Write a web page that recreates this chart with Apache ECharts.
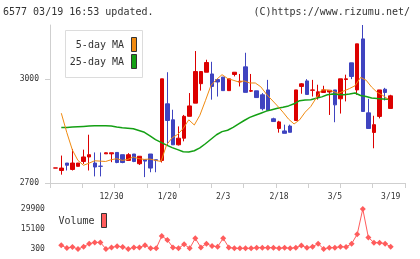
<!DOCTYPE html>
<html><head><meta charset="utf-8">
<script src="https://cdn.jsdelivr.net/npm/echarts@6/dist/echarts.min.js"></script>
<style>html,body{margin:0;padding:0;background:#fff}#c{width:420px;height:259px}</style>
</head><body><div id="c"></div><script>
// ---- data ----
const dates = ['12/16','12/17','12/18','12/19','12/20','12/23','12/24','12/25','12/26','12/27',
  '12/30','1/6','1/7','1/8','1/9','1/10','1/14','1/15','1/16','1/17',
  '1/20','1/21','1/22','1/23','1/24','1/27','1/28','1/29','1/30','1/31',
  '2/3','2/4','2/5','2/6','2/7','2/10','2/12','2/13','2/14','2/17',
  '2/18','2/19','2/20','2/21','2/25','2/26','2/27','2/28','3/3','3/4',
  '3/5','3/6','3/7','3/10','3/11','3/12','3/13','3/14','3/17','3/18','3/19'];
// [open, close, low, high]
const ohlc = [
  [2743,2743.4,2743,2743.4],[2736,2743,2724,2779],[2757.5,2751,2736,2757.5],[2739,2757.5,2736,2798],[2748,2757.5,2748,2757.5],
  [2762,2775,2755,2796],[2775,2781.5,2736,2839],[2757.5,2746,2719,2788],[2748.5,2748,2719,2788],[2784,2787,2784,2788],
  [2784,2787,2760,2787],[2788,2759,2757,2788],[2781.5,2759,2757,2781.5],[2765,2781.5,2765,2786],[2783.5,2762,2760,2783.5],
  [2755.5,2777,2752,2777],[2767,2763,2717,2767],[2783.5,2743,2731,2783.5],[2767,2765,2731,2767],[2765,3000,2759,3000],
  [2928,2880,2807,3019],[2882,2810,2810,2911],[2810,2829,2808,2863],[2829,2892,2820,2896],[2892,2922,2892,2959],
  [2930,3021,2930,3080],[2986,3021,2966,3021],[3019,3047,3019,3055],[3014,2978,2940,3049],[2998,2991,2949,3000],
  [3005,2966,2966,3005],[2966,3000,2966,3000],[3012.5,3019,3007,3019],[2991,2993,2978,3014],[3034.5,2961,2961,3075],
  [2964.5,2966,2962,3014],[2965.5,2946,2946,2965.5],[2954,2914,2909,2959],[2968,2909,2909,2997],[2885,2877,2877,2888],
  [2857,2876,2845,2879],[2850,2843,2843,2868],[2864,2846,2846,2868],[2880,2968,2880,2968],[2978,2985.6,2957,2987.5],
  [2994,2955,2955,2999],[2967,2968,2949,2997],[2949,2962.6,2940,2983],[2960.7,2968,2960.7,2980],[2962,2967,2896,2968],
  [2968,2925,2875,2968],[2942.5,3000,2900,3000],[2998,3000,2935,3012],[3046,3006.7,2999,3046],[2968,3100.7,2954,3100.7],
  [3115,2906,2906,3155],[2902,2857,2857,2942.5],[2845.6,2868,2800,2893.6],[2891.7,2968,2886,2968],[2970,2960.7,2937.7,2974],
  [2914.7,2951,2914.7,2954]
];
const ma5 = [2901,2845,2795,2765,2751,2757,2764,2763,2762,2767,2770,2765,2768,2775,2770,2768,2769,2765,2762,2810,
  2830,2840,2857,2882,2867,2895,2937,2981,2998,3012,3001,2996,2991,2994,2988,2988,2977,2956,2939,2922,
  2904,2884,2870,2882,2904,2920,2945,2968,2968,2964,2958,2965,2972,2980,3004,2996,2976,2961,2952,2941];
const ma25 = [2860,2860,2861,2862,2863,2864,2865,2865,2865,2864,2861,2859,2858,2856,2851,2846,2836,2825,2817,2809,
  2802,2796,2790,2789,2793,2801,2813,2826,2839,2848,2852,2860,2870,2880,2889,2895,2901,2907,2911,2915,
  2918,2922,2928,2937,2939,2940,2944,2948,2954,2956,2955,2954,2956,2959,2952,2949,2945,2943,2942,2941];
const volume = [3000,1000,1800,300,2000,4200,5200,5200,300,1500,2300,1800,300,1500,1500,3000,800,800,9900,7000,
  1500,800,3800,800,8200,1500,4200,2500,2000,8200,1500,800,800,800,800,1300,1300,1300,1300,800,
  1300,800,1300,2800,1300,2000,4200,300,1300,1300,2000,1800,4200,11200,29900,8900,5000,5000,4200,2000];
const priceTicks = [2700, 3000];
const volumeTicks = [300, 15100, 29900];

// ---- style ----
const MONO = '"DejaVu Sans Mono", "Liberation Mono", monospace';
const RED = '#dc0000', BLUE = '#3f44c0', ORANGE = '#f08a10', GREEN = '#14a014', VOL = '#ff5c5c';
const AXIS = '#cfcfcf', TXT = '#333';
const plain = (v) => String(Math.round(v));

const chart = echarts.init(document.getElementById('c'), null, {renderer: 'canvas'});
chart.setOption({
  animation: false,
  backgroundColor: '#fff',
  title: [
    {text: '6577 03/19 16:53 updated.', left: 3, top: 7, padding: 0,
     textStyle: {fontSize: 10, fontWeight: 'normal', color: TXT, fontFamily: MONO}},
    {text: '(C)https://www.rizumu.net/', right: 10, top: 7, padding: 0,
     textStyle: {fontSize: 10, fontWeight: 'normal', color: TXT, fontFamily: MONO}}
  ],
  grid: [
    {left: 50, right: 15, top: 25, bottom: 76},
    {left: 52.9, right: 26.5, top: 25, bottom: 76},
    {left: 52.9, right: 26.5, top: 209, bottom: 10},
    {left: 61.3, right: 31.7, top: 25, bottom: 76}
  ],
  xAxis: [
    {gridIndex: 0, type: 'value', min: 0, max: 11, interval: 1,
     axisLine: {show: true, onZero: false, lineStyle: {color: AXIS}},
     axisTick: {show: true, length: 5, lineStyle: {color: AXIS}},
     axisLabel: {show: false}, splitLine: {show: false}},
    {gridIndex: 1, type: 'category', data: dates, boundaryGap: true,
     axisLine: {show: false}, axisTick: {show: false}, splitLine: {show: false},
     axisLabel: {interval: (i) => i > 0 && i % 10 === 0, margin: 10, fontSize: 8, color: TXT, fontFamily: MONO, hideOverlap: false}},
    {gridIndex: 2, type: 'category', data: dates, boundaryGap: true, show: false},
    {gridIndex: 3, type: 'category', data: dates.slice(1), boundaryGap: false, show: false}
  ],
  yAxis: [
    {gridIndex: 0, type: 'value', min: 2700, max: 3155,
     axisLine: {show: true, lineStyle: {color: AXIS}},
     axisTick: {show: true, length: 5, customValues: priceTicks, lineStyle: {color: AXIS}},
     axisLabel: {customValues: priceTicks, formatter: plain, margin: 11, fontSize: 8, color: TXT, fontFamily: MONO},
     splitLine: {show: false}},
    {gridIndex: 1, type: 'value', min: 2700, max: 3155, show: false},
    {gridIndex: 2, type: 'value', min: 300, max: 29900,
     axisLine: {show: false}, axisTick: {show: false}, splitLine: {show: false},
     axisLabel: {customValues: volumeTicks, formatter: plain, margin: 8, fontSize: 8, color: TXT, fontFamily: MONO}},
    {gridIndex: 3, type: 'value', min: 2700, max: 3155, show: false}
  ],
  series: [
    {type: 'candlestick', xAxisIndex: 1, yAxisIndex: 1, data: ohlc, barWidth: 4,
     itemStyle: {color: RED, color0: BLUE, borderColor: RED, borderColor0: BLUE, borderWidth: 1}},
    {type: 'line', name: '5-day MA', xAxisIndex: 3, yAxisIndex: 3, data: ma5, showSymbol: false, z: 5,
     lineStyle: {color: ORANGE, width: 1}},
    {type: 'line', name: '25-day MA', xAxisIndex: 3, yAxisIndex: 3, data: ma25, showSymbol: false, z: 4,
     lineStyle: {color: GREEN, width: 1.5}},
    {type: 'line', name: 'Volume', xAxisIndex: 2, yAxisIndex: 2, data: [null].concat(volume),
     symbol: 'diamond', symbolSize: 6, showAllSymbol: true,
     lineStyle: {color: VOL, width: 1}, itemStyle: {color: VOL}}
  ],
  graphic: [
    {type: 'rect', shape: {x: 65.5, y: 30.5, width: 77, height: 47}, style: {fill: '#fff', stroke: '#dcdcdc', lineWidth: 1}, z: 10},
    {type: 'text', x: 124, y: 45.5, style: {text: '5-day MA', align: 'right', verticalAlign: 'middle', fill: TXT, font: '10px ' + MONO}, z: 11},
    {type: 'rect', shape: {x: 131.5, y: 37.5, width: 5, height: 14}, style: {fill: ORANGE, stroke: '#333', lineWidth: 1}, z: 11},
    {type: 'text', x: 124, y: 62.5, style: {text: '25-day MA', align: 'right', verticalAlign: 'middle', fill: TXT, font: '10px ' + MONO}, z: 11},
    {type: 'rect', shape: {x: 131.5, y: 54.5, width: 5, height: 14}, style: {fill: GREEN, stroke: '#333', lineWidth: 1}, z: 11},
    {type: 'text', x: 58.5, y: 221.5, style: {text: 'Volume', align: 'left', verticalAlign: 'middle', fill: TXT, font: '10px ' + MONO}, z: 11},
    {type: 'rect', shape: {x: 101.5, y: 213.5, width: 5, height: 14}, style: {fill: VOL, stroke: '#333', lineWidth: 1}, z: 11}
  ]
});
</script></body></html>
